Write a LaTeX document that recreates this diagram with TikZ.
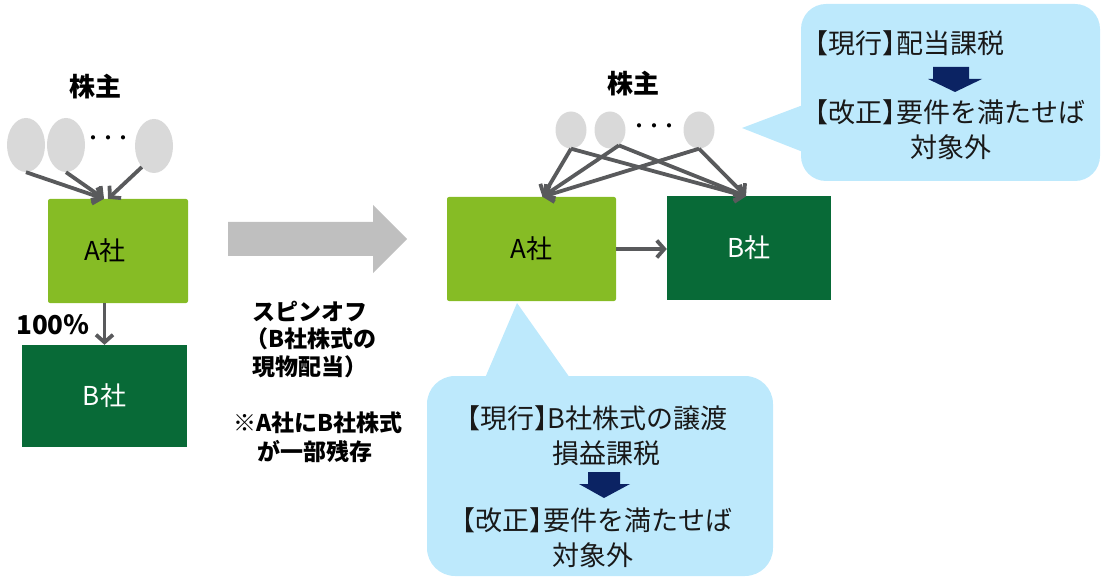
\documentclass[tikz,border=0pt]{standalone}
\usepackage{fontspec}
\newfontfamily\jp{Noto Sans CJK JP}
\newfontfamily\jph[RawFeature=+halt]{Noto Sans CJK JP}
\usetikzlibrary{arrows.meta,shapes.geometric,calc}
\definecolor{lgreen}{HTML}{86BC25}
\definecolor{dgreen}{HTML}{086A37}
\definecolor{callblue}{HTML}{BDE9FC}
\definecolor{conngray}{HTML}{595A5C}
\definecolor{biggray}{HTML}{BFBFBF}
\definecolor{navyblue}{HTML}{0B2363}
\definecolor{shgray}{HTML}{D9D9D9}
\newcommand\lbk{{\jph 【}}
\newcommand\rbk{{\jph 】}}
\begin{document}
\begin{tikzpicture}[x=1pt,y=-1pt,
  abox/.style={fill=lgreen, rounded corners=2pt, inner sep=0pt},
  bbox/.style={fill=dgreen, inner sep=0pt, text=white},
  boxtxt/.style={font=\jp\fontsize{26}{28}\selectfont},
  shold/.style={ellipse, fill=shgray, inner sep=0pt},
  conn/.style={draw=conngray, line width=3.8pt, -{Straight Barb[length=7.5pt,width=17pt]}},
  lbl/.style={font=\jp\bfseries\fontsize{23}{26}\selectfont, inner sep=0pt},
  head/.style={font=\jp\bfseries\fontsize{26}{28}\selectfont, inner sep=0pt},
  dots/.style={font=\jp\bfseries\fontsize{15}{15}\selectfont, inner sep=0pt},
  ctxt/.style={font=\jp\fontsize{27}{30}\selectfont, inner sep=0pt, text=black!90},
  callout/.style={fill=callblue},
  downarrow/.style={fill=navyblue}
]
\useasboundingbox (0,0) rectangle (1102,577);

% ---------------- left: before ----------------
\node[head] (hL) at (95,87) {株主};
\node[shold, minimum width=38pt, minimum height=54pt] (sL1) at (26,145) {};
\node[shold, minimum width=38pt, minimum height=54pt] (sL2) at (66,145) {};
\node[shold, minimum width=38pt, minimum height=54pt] (sL3) at (154,146) {};
\node[dots] (dL) at (108,140) {・・・};

\node[abox, minimum width=140pt, minimum height=104pt] (aL) at (118,251) {};
\node[boxtxt] (aLt) at (105,251) {A社};
\node[bbox, boxtxt, minimum width=165pt, minimum height=102pt] (bL) at (104.5,396) {B社};

\draw[conn] (sL1.south) -- (aL.105);
\draw[conn] (sL2.south) -- (aL.105);
\draw[conn] (sL3.240) -- ($(aL.north)+(-10,0)$);
\draw[conn] (aL.south -| bL.north) -- (bL.north);
\node[lbl, font=\jp\bfseries\fontsize{26}{28}\selectfont] (pct) at (53,325) {100％};

% ---------------- middle ----------------
\fill[biggray] (228,222) -- (373,222) -- (373,205) -- (407,239) -- (373,273) -- (373,256) -- (228,256) -- cycle;
\node[lbl, anchor=west] (t1) at (252,311) {スピンオフ};
\node[lbl, anchor=west] (t2) at (245,339) {（B社株式の};
\node[lbl, anchor=west] (t3) at (252,367) {現物配当）};
\node[lbl, anchor=west] (t4) at (233,423) {※A社にB社株式};
\node[lbl, anchor=west] (t5) at (257,452) {が一部残存};

% ---------------- right: after ----------------
\node[head] (hR) at (633,84) {株主};
\node[shold, minimum width=31pt, minimum height=37pt] (sR1) at (571,130) {};
\node[shold, minimum width=31pt, minimum height=37pt] (sR2) at (610,130) {};
\node[shold, minimum width=31pt, minimum height=37pt] (sR3) at (699,130) {};
\node[dots] (dR) at (654,128) {・・・};

\node[abox, boxtxt, minimum width=169pt, minimum height=104pt] (aR) at (531.5,249) {A社};
\node[bbox, boxtxt, minimum width=164pt, minimum height=103pt] (bR) at (749,248) {B社};

\coordinate (aRin) at ($(aR.north)+(11,0)$);
\coordinate (bRin) at ($(bR.north)+(-3,0)$);
\foreach \s in {sR1.south, sR2.300, sR3.south} {
  \draw[conn] (\s) -- (aRin);
  \draw[conn] (\s) -- (bRin);
}
\draw[conn] (aR.east) -- (aR.east -| bR.west);

% ---------------- top callout ----------------
\fill[callout, rounded corners=25pt] (801,4) rectangle (1100,181);
\fill[callout] (803,105) -- (742,128) -- (803,152) -- cycle;
\node[ctxt, anchor=west] (c1a) at (815,43) {\lbk 現行\rbk 配当課税};
\fill[downarrow] (933,67) -- (969,67) -- (969,79) -- (982,79) -- (955,92) -- (928,79) -- (933,79) -- cycle;
\node[ctxt, anchor=west] (c1b) at (815,112) {\lbk 改正\rbk 要件を満たせば};
\node[ctxt] (c1c) at (951,147) {対象外};

% ---------------- bottom callout ----------------
\fill[callout, rounded corners=28pt] (427,376) rectangle (773,576);
\fill[callout] (485,378) -- (517,303) -- (570,378) -- cycle;
\node[ctxt] (c2a) at (597,418) {\lbk 現行\rbk B社株式の譲渡};
\node[ctxt] (c2b) at (606,453) {損益課税};
\fill[downarrow] (588,472) -- (620,472) -- (620,484) -- (630,484) -- (604,498) -- (579,484) -- (588,484) -- cycle;
\node[ctxt] (c2c) at (597,520) {\lbk 改正\rbk 要件を満たせば};
\node[ctxt] (c2d) at (593,555) {対象外};
\end{tikzpicture}
\end{document}
